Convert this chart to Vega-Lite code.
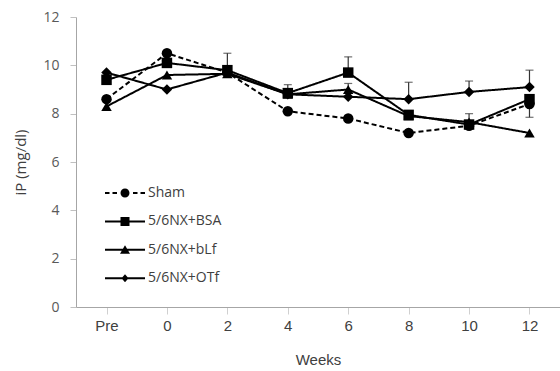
{
  "$schema": "https://vega.github.io/schema/vega-lite/v6.json",
  "width": 484,
  "height": 290,
  "autosize": {"type": "none"},
  "padding": {"left": 76, "top": 17, "right": 0, "bottom": 64},
  "background": "white",
  "config": {
    "view": {"stroke": null},
    "axis": {"grid": false}
  },
  "datasets": {
    "pts": [
      {"week": "Pre", "group": "Sham", "value": 8.6},
      {"week": "0", "group": "Sham", "value": 10.5},
      {"week": "2", "group": "Sham", "value": 9.7},
      {"week": "4", "group": "Sham", "value": 8.1},
      {"week": "6", "group": "Sham", "value": 7.8},
      {"week": "8", "group": "Sham", "value": 7.2},
      {"week": "10", "group": "Sham", "value": 7.5},
      {"week": "12", "group": "Sham", "value": 8.4},
      {"week": "Pre", "group": "5/6NX+BSA", "value": 9.4},
      {"week": "0", "group": "5/6NX+BSA", "value": 10.1},
      {"week": "2", "group": "5/6NX+BSA", "value": 9.8},
      {"week": "4", "group": "5/6NX+BSA", "value": 8.85},
      {"week": "6", "group": "5/6NX+BSA", "value": 9.7},
      {"week": "8", "group": "5/6NX+BSA", "value": 7.95},
      {"week": "10", "group": "5/6NX+BSA", "value": 7.55},
      {"week": "12", "group": "5/6NX+BSA", "value": 8.6},
      {"week": "Pre", "group": "5/6NX+bLf", "value": 8.3},
      {"week": "0", "group": "5/6NX+bLf", "value": 9.6},
      {"week": "2", "group": "5/6NX+bLf", "value": 9.65},
      {"week": "4", "group": "5/6NX+bLf", "value": 8.8},
      {"week": "6", "group": "5/6NX+bLf", "value": 9.0},
      {"week": "8", "group": "5/6NX+bLf", "value": 7.9},
      {"week": "10", "group": "5/6NX+bLf", "value": 7.65},
      {"week": "12", "group": "5/6NX+bLf", "value": 7.2},
      {"week": "Pre", "group": "5/6NX+OTf", "value": 9.7},
      {"week": "0", "group": "5/6NX+OTf", "value": 9.0},
      {"week": "2", "group": "5/6NX+OTf", "value": 9.7},
      {"week": "4", "group": "5/6NX+OTf", "value": 8.8},
      {"week": "6", "group": "5/6NX+OTf", "value": 8.7},
      {"week": "8", "group": "5/6NX+OTf", "value": 8.6},
      {"week": "10", "group": "5/6NX+OTf", "value": 8.9},
      {"week": "12", "group": "5/6NX+OTf", "value": 9.1}
    ],
    "err": [
      {"week": "2", "group": "5/6NX+BSA", "value": 9.8, "end": 10.5},
      {"week": "4", "group": "5/6NX+BSA", "value": 8.85, "end": 9.2},
      {"week": "6", "group": "5/6NX+BSA", "value": 9.7, "end": 10.35},
      {"week": "6", "group": "5/6NX+bLf", "value": 9.0, "end": 9.25},
      {"week": "8", "group": "5/6NX+OTf", "value": 8.6, "end": 9.3},
      {"week": "10", "group": "5/6NX+OTf", "value": 8.9, "end": 9.35},
      {"week": "10", "group": "5/6NX+BSA", "value": 7.55, "end": 8.0},
      {"week": "12", "group": "5/6NX+OTf", "value": 9.1, "end": 9.8},
      {"week": "12", "group": "Sham", "value": 8.4, "end": 7.85}
    ]
  },
  "encoding": {
    "x": {
      "field": "week",
      "type": "ordinal",
      "sort": ["Pre", "0", "2", "4", "6", "8", "10", "12"],
      "scale": {"type": "point", "padding": 0.505},
      "axis": {
        "title": "Weeks",
        "labelAngle": 0,
        "domainColor": "#a6a6a6",
        "tickColor": "#d0d0d0",
        "tickSize": 7,
        "labelFont": "Liberation Sans",
        "labelFontSize": 15,
        "labelColor": "#404040",
        "labelPadding": 4,
        "titleFont": "Liberation Sans",
        "titleFontSize": 15,
        "titleFontWeight": "normal",
        "titleColor": "#404040",
        "titlePadding": 19
      }
    },
    "y": {
      "field": "value",
      "type": "quantitative",
      "scale": {"domain": [0, 12], "nice": false},
      "axis": {
        "title": "iP (mg/dl)",
        "values": [0, 2, 4, 6, 8, 10, 12],
        "domainColor": "#a6a6a6",
        "tickColor": "#c0c0c0",
        "tickSize": 6,
        "labelFont": "Open Sans",
        "labelFontSize": 14,
        "labelColor": "#595959",
        "labelPadding": 11,
        "titleFont": "Open Sans",
        "titleFontSize": 15,
        "titleFontWeight": "normal",
        "titleColor": "#404040",
        "titlePadding": 14
      }
    }
  },
  "layer": [
    {
      "data": {"name": "pts"},
      "mark": {"type": "line", "color": "black", "strokeWidth": 2},
      "encoding": {
        "detail": {"field": "group"},
        "strokeDash": {
          "field": "group",
          "scale": {
            "domain": ["Sham", "5/6NX+BSA", "5/6NX+bLf", "5/6NX+OTf"],
            "range": [[5, 3], [1, 0], [1, 0], [1, 0]]
          },
          "legend": null
        }
      }
    },
    {
      "data": {"name": "err"},
      "mark": {"type": "rule", "color": "#333333", "strokeWidth": 1.2},
      "encoding": {
        "y2": {"field": "end"}
      }
    },
    {
      "data": {"name": "err"},
      "mark": {"type": "tick", "color": "#333333", "thickness": 1.2, "size": 8},
      "encoding": {
        "y": {"field": "end", "type": "quantitative"}
      }
    },
    {
      "data": {"name": "pts"},
      "mark": {"type": "point", "filled": true, "color": "black", "opacity": 1, "size": 110},
      "encoding": {
        "shape": {
          "field": "group",
          "scale": {
            "domain": ["Sham", "5/6NX+BSA", "5/6NX+bLf", "5/6NX+OTf"],
            "range": ["circle", "square", "triangle-up", "diamond"]
          },
          "legend": null
        }
      }
    },
    {
      "data": {"name": "pts"},
      "mark": {"type": "point", "filled": true, "color": "black", "opacity": 0},
      "encoding": {
        "shape": {
          "field": "group",
          "scale": {
            "domain": ["Sham", "5/6NX+BSA", "5/6NX+bLf", "5/6NX+OTf"],
            "range": [
              "M-2,-0.1H-1.55V0.1H-2Z M-1.25,-0.1H-0.8V0.1H-1.25Z M0.8,-0.1H1.25V0.1H0.8Z M1.55,-0.1H2V0.1H1.55Z M-0.45,0A0.45,0.45 0 1,1 0.45,0A0.45,0.45 0 1,1 -0.45,0Z",
              "M-2,-0.1H2V0.1H-2Z M-0.45,-0.45H0.45V0.45H-0.45Z",
              "M-2,-0.1H2V0.1H-2Z M-0.5,0.4L0,-0.45L0.5,0.4Z",
              "M-2,-0.1H2V0.1H-2Z M0,-0.4L0.35,0L0,0.4L-0.35,0Z"
            ]
          },
          "legend": {
            "title": null,
            "orient": "none",
            "legendX": 39,
            "legendY": 166,
            "padding": 0,
            "symbolSize": 400,
            "symbolOpacity": 1,
            "symbolFillColor": "black",
            "symbolStrokeColor": "black",
            "symbolStrokeWidth": 0,
            "labelFont": "Open Sans",
            "labelFontSize": 14,
            "labelColor": "#404040",
            "labelOffset": 13,
            "rowPadding": 11.4
          }
        }
      }
    }
  ],
  "resolve": {"scale": {"shape": "independent"}, "legend": {"shape": "independent"}}
}
